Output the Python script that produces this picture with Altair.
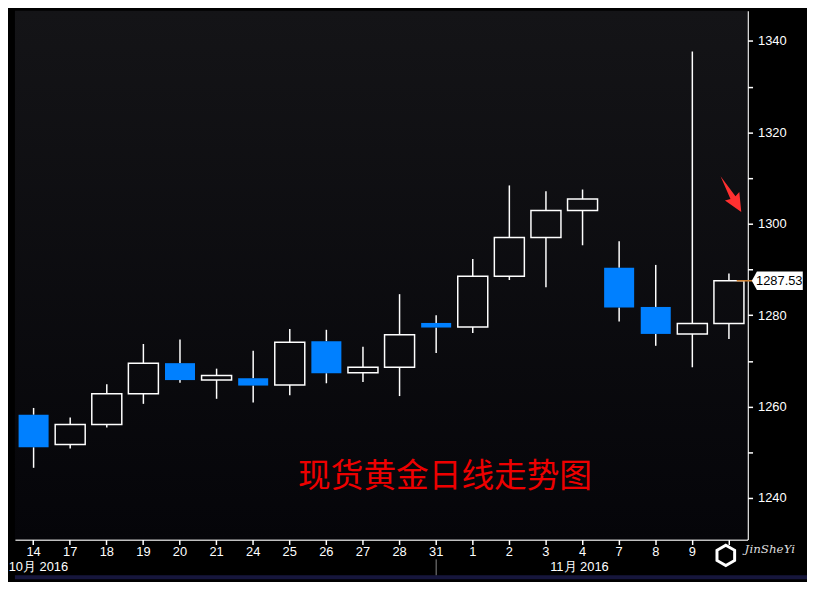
import altair as alt
import pandas as pd

# ---- data ----
days = ["14", "17", "18", "19", "20", "21", "24", "25", "26", "27", "28", "31",
        "1", "2", "3", "4", "7", "8", "9", "10"]
opens = [1258.2, 1251.7, 1256.1, 1262.8, 1269.5, 1265.8, 1266.2, 1264.7, 1274.3, 1267.4,
         1268.6, 1278.3, 1277.4, 1288.5, 1297.0, 1302.9, 1290.4, 1281.8, 1275.9, 1278.2]
closes = [1251.1, 1256.1, 1262.8, 1269.5, 1265.8, 1266.8, 1264.6, 1274.1, 1267.3, 1268.6,
          1275.7, 1277.3, 1288.5, 1297.0, 1302.9, 1305.4, 1281.7, 1275.9, 1278.2, 1287.53]
highs = [1259.7, 1257.6, 1264.9, 1273.7, 1274.7, 1268.3, 1272.2, 1277.0, 1276.8, 1273.1,
         1284.6, 1280.0, 1292.3, 1308.4, 1307.1, 1307.5, 1296.2, 1291.0, 1337.7, 1289.1]
lows = [1246.6, 1250.8, 1255.4, 1260.6, 1265.2, 1261.7, 1260.9, 1262.5, 1265.1, 1265.4,
        1262.3, 1271.7, 1276.1, 1287.7, 1286.1, 1295.3, 1278.6, 1273.3, 1268.6, 1274.8]
last_price = [1287.53]
last_label = ["1287.53"]
title_text = ["现货黄金日线走势图"]
title_day = ["31"]
title_value = [1244.5]
month_labels = ["10月 2016", "11月 2016"]
month_days = ["14", "4"]
month_offsets = [20, 12]
month_sep_day = ["31"]
arrow_day = ["10"]
arrow_value = [1306.5]
y_ticks = [1240, 1250, 1260, 1270, 1280, 1290, 1300, 1310, 1320, 1330, 1340]

W, H = 740, 534

df = pd.DataFrame({"day": days, "open": opens, "high": highs, "low": lows, "close": closes})
df["top"] = df[["open", "close"]].max(axis=1)
df["bot"] = df[["open", "close"]].min(axis=1)

x_scale = alt.Scale(domain=days, paddingInner=0.18, paddingOuter=0.1)
x_axis = alt.Axis(title=None, labelAngle=0, domainColor="white", domainWidth=1.5,
                  tickColor="white", tickSize=5, tickWidth=1.5, labelColor="white",
                  labelFont="Liberation Sans", labelFontSize=13, labelPadding=1, grid=False,
                  labelExpr="datum.value == '10' ? '' : datum.value")
y_scale = alt.Scale(domain=[1230.9, 1346.6], nice=False, zero=False)
y_axis = alt.Axis(title=None, orient="right", values=y_ticks, format="d",
                  labelExpr="datum.value % 20 == 0 ? datum.label : ''",
                  domainColor="white", domainWidth=1.5, tickColor="white", tickSize=5,
                  tickWidth=1.5, labelColor="white", labelFont="Liberation Sans",
                  labelFontSize=13, labelPadding=5, grid=False)


def X(field="day:N"):
    return alt.X(field, scale=x_scale, axis=x_axis, sort=days)


def Y(field):
    return alt.Y(field, scale=y_scale, axis=y_axis)


bg = alt.Chart(pd.DataFrame({"a": [0]})).mark_rect(
    fill=alt.LinearGradient(gradient="linear", x1=0, x2=0, y1=0, y2=1,
                            stops=[alt.GradientStop(color="#141417", offset=0),
                                   alt.GradientStop(color="#050509", offset=1)])
).encode(x=alt.value(0), x2=alt.value(W), y=alt.value(0), y2=alt.value(H))

strip = alt.Chart(pd.DataFrame({"a": [0]})).mark_rect(color="#16163c").encode(
    x=alt.value(0), x2=alt.value(W + 60), y=alt.value(H + 36), y2=alt.value(H + 40))

base = alt.Chart(df)
wick_up = base.mark_rule(color="white", strokeWidth=1.5).encode(x=X(), y=Y("high:Q"), y2="top:Q")
wick_dn = base.mark_rule(color="white", strokeWidth=1.5).encode(x=X(), y=Y("bot:Q"), y2="low:Q")
bodies = base.mark_bar(strokeWidth=1.5).encode(
    x=X(), y=Y("open:Q"), y2="close:Q",
    fill=alt.condition("datum.close < datum.open", alt.value("#0080ff"), alt.value("rgba(0,0,0,0)")),
    stroke=alt.condition("datum.close < datum.open", alt.value("rgba(0,0,0,0)"), alt.value("white")),
)

lp = pd.DataFrame({"v": last_price, "t": last_label})
lp_rule = alt.Chart(lp).mark_rule(color="#d08030", strokeWidth=1.5).encode(
    y=Y("v:Q"), x=alt.value(W - 11), x2=alt.value(W + 6))
lp_box = alt.Chart(lp).mark_point(
    shape="M-1,0 L-0.8,-0.36 L1,-0.36 L1,0.36 L-0.8,0.36 Z", size=2650,
    filled=True, fill="white", opacity=1, strokeWidth=0
).encode(y=Y("v:Q"), x=alt.value(W + 30))
lp_text = alt.Chart(lp).mark_text(font="Liberation Sans", fontSize=13, color="black",
                                  align="center", baseline="middle", dx=2).encode(
    y=Y("v:Q"), x=alt.value(W + 30), text="t:N")

title = alt.Chart(pd.DataFrame({"day": title_day, "v": title_value, "t": title_text})).mark_text(
    font="Noto Sans CJK SC", fontSize=33, color="#ee0000", align="center", baseline="middle", dx=9
).encode(x=X(), y=Y("v:Q"), text="t:N")

months = alt.Chart(pd.DataFrame({"day": month_days, "t": month_labels, "off": month_offsets})).mark_text(
    font="Liberation Sans", fontSize=13, color="white", align="center", baseline="middle"
).encode(x=X(), y=alt.value(H + 28), text="t:N",
         xOffset=alt.XOffset("off:Q", scale=None))

sep = alt.Chart(pd.DataFrame({"day": month_sep_day})).mark_rule(color="#8a8a8a", strokeWidth=1).encode(
    x=X(), y=alt.value(H + 20), y2=alt.value(H + 36))

arrow = alt.Chart(pd.DataFrame({"day": arrow_day, "v": arrow_value})).mark_point(
    shape="M-1,0 L0.2,-0.14 L0.12,-0.4 L1,0 L0.12,0.4 L0.2,0.14 Z", size=1750, angle=60,
    filled=True, fill="#ff3030", opacity=1, strokeWidth=0, xOffset=2
).encode(x=X(), y=Y("v:Q"))

logo_icon = alt.Chart(pd.DataFrame({"a": [0]})).mark_point(
    shape="M0,-1 L0.87,-0.5 L0.87,0.5 L0,1 L-0.87,0.5 L-0.87,-0.5 Z", size=420,
    filled=False, stroke="white", strokeWidth=3, opacity=1
).encode(x=alt.value(W - 22), y=alt.value(H + 16))
logo_text = alt.Chart(pd.DataFrame({"t": ["JinSheYi"]})).mark_text(
    font="DejaVu Serif", fontStyle="italic", fontSize=12, color="#dddddd", align="left", baseline="middle"
).encode(x=alt.value(W - 3), y=alt.value(H + 10), text="t:N")

chart = alt.layer(
    bg, strip, wick_up, wick_dn, bodies, lp_rule, lp_box, lp_text, title, months, sep, arrow,
    logo_icon, logo_text
).properties(width=W, height=H, padding={"left": 0, "top": 0, "right": 0, "bottom": 0}
).configure(background="#000000").configure_view(stroke=None)

chart.save("out.html", embed_options={"renderer": "svg", "actions": False})
